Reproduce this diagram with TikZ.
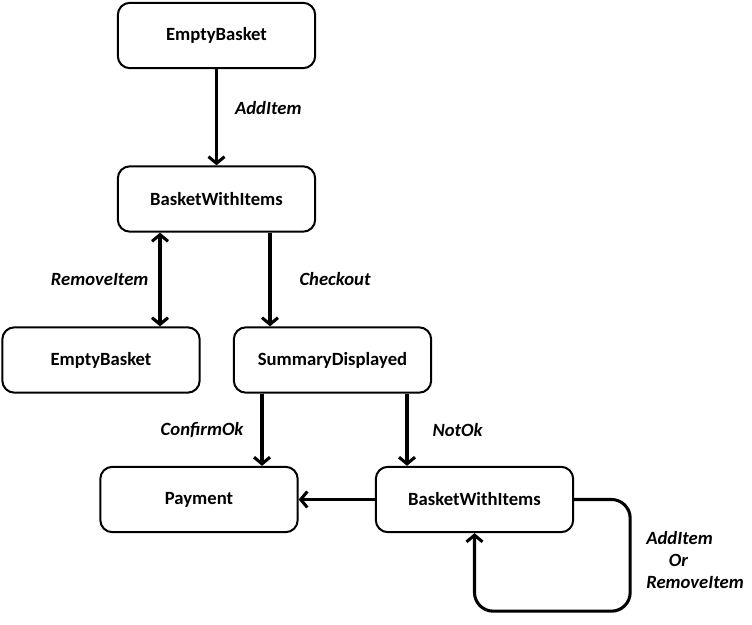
\documentclass[tikz,border=0pt]{standalone}
\usepackage{fontspec}
\setmainfont{Carlito}
\usepackage{tikz}
\usetikzlibrary{positioning,calc,arrows.meta}

\begin{document}
\begin{tikzpicture}[
    x=0.75pt, y=-0.75pt,
    state/.style={draw, line width=1.5pt, rounded corners=9pt, minimum width=148pt, minimum height=49pt,
        font=\fontsize{14}{16.5}\selectfont\bfseries},
    lbl/.style={inner sep=0pt, font=\fontsize{14}{16.5}\selectfont\bfseries\itshape},
    arr/.style={line width=2.3pt, -{Straight Barb[length=5pt,width=12pt]}}
]
    \useasboundingbox (0,0) rectangle (752,624);

    % States
    \node[state] (empty1) at (216.5,35.5) {EmptyBasket};
    \node[state] (basket1) at (216.5,199) {BasketWithItems};
    \node[state] (empty2) at (101,360) {EmptyBasket};
    \node[state] (summary) at (332.5,360) {SummaryDisplayed};
    \node[state] (payment) at (199,499.5) {Payment};
    \node[state] (basket2) at (474.5,499.5) {BasketWithItems};

    % Transitions
    \draw[arr] (empty1.south) -- node[lbl, right=12.75pt, pos=0.4] (lAdd) {AddItem} (basket1.north);
    \draw[arr, {Straight Barb[length=5pt,width=12pt]}-{Straight Barb[length=5pt,width=12pt]}]
        ($(basket1.south)+(-56.5,0)$) -- node[lbl, left=7.5pt] (lRemove) {RemoveItem} ($(empty2.north)+(59,0)$);
    \draw[arr] ($(basket1.south)+(53.5,0)$) -- node[lbl, right=21pt] (lCheckout) {Checkout} ($(summary.north)+(-62.5,0)$);
    \draw[arr] ($(summary.south)+(-70.5,0)$) -- node[lbl, left=12.75pt] (lConfirm) {ConfirmOk} ($(payment.north)+(63,0)$);
    \draw[arr] ($(summary.south)+(74.5,0)$) -- node[lbl, right=18pt] (lNotOk) {NotOk} ($(basket2.north)+(-67.5,0)$);
    \draw[arr] (basket2.west) -- (payment.east);

    % Self loop
    \draw[arr, rounded corners=14pt] (basket2.east) -- ++(56,0) |- ($(basket2.south)+(0,78)$) -- (basket2.south);
    \node[lbl, anchor=west, align=left] (lLoop) at (646,560) {AddItem\\\hspace{17pt}Or\\RemoveItem};
\end{tikzpicture}
\end{document}
